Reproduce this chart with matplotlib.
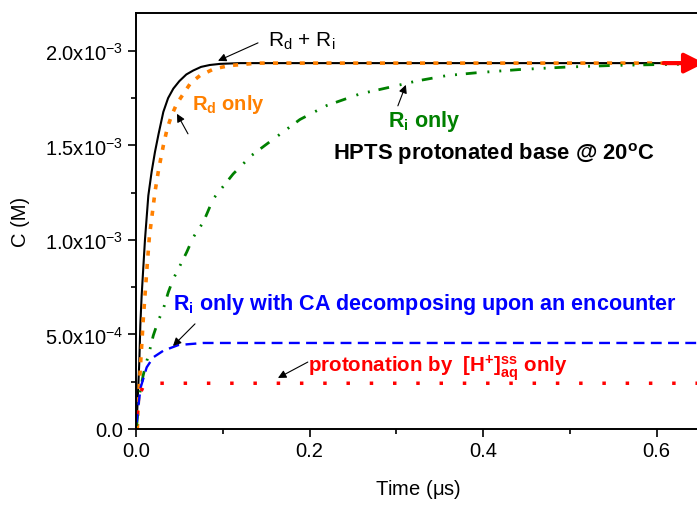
import matplotlib
matplotlib.use('Agg')
import matplotlib.pyplot as plt
from matplotlib.ticker import MultipleLocator, FuncFormatter

plt.rcParams['font.family'] = ['Liberation Sans', 'DejaVu Sans']
plt.rcParams['mathtext.fontset'] = 'custom'
plt.rcParams['mathtext.rm'] = 'Liberation Sans'
plt.rcParams['mathtext.bf'] = 'Liberation Sans:bold'
plt.rcParams['mathtext.default'] = 'regular'

# curves: time (us), concentration (M)
t_both = [0.0, 0.0005, 0.0015, 0.0038, 0.005, 0.0065, 0.0085, 0.0104, 0.0142, 0.018,
          0.0219, 0.026, 0.0315, 0.037, 0.043, 0.05, 0.058, 0.066, 0.075, 0.085,
          0.097, 0.12, 0.65]
c_both = [0.0, 0.03e-3, 0.106e-3, 0.354e-3, 0.55e-3, 0.705e-3, 0.86e-3, 1.005e-3,
          1.234e-3, 1.36e-3, 1.466e-3, 1.56e-3, 1.677e-3, 1.75e-3, 1.80e-3, 1.84e-3,
          1.875e-3, 1.896e-3, 1.915e-3, 1.925e-3, 1.931e-3, 1.935e-3, 1.935e-3]

t_rd = [0.0015, 0.0027, 0.0054, 0.0084, 0.0123, 0.0154, 0.0219, 0.026, 0.0315, 0.036,
        0.041, 0.047, 0.0545, 0.063, 0.0737, 0.09, 0.108, 0.14, 0.65]
c_rd = [0.0, 0.143e-3, 0.354e-3, 0.582e-3, 0.83e-3, 1.016e-3, 1.254e-3, 1.37e-3,
        1.499e-3, 1.59e-3, 1.658e-3, 1.72e-3, 1.772e-3, 1.83e-3, 1.869e-3, 1.905e-3,
        1.922e-3, 1.935e-3, 1.935e-3]

t_ri = [0.0008, 0.0038, 0.0081, 0.0115, 0.0153, 0.0199, 0.0257, 0.0315, 0.0372,
        0.043, 0.0499, 0.0584, 0.066, 0.0776, 0.089, 0.112, 0.133, 0.151, 0.189,
        0.220, 0.258, 0.293, 0.323, 0.358, 0.3925, 0.442, 0.496, 0.546, 0.598, 0.64]
c_ri = [0.017e-3, 0.176e-3, 0.280e-3, 0.344e-3, 0.407e-3, 0.494e-3, 0.573e-3,
        0.635e-3, 0.723e-3, 0.794e-3, 0.856e-3, 0.935e-3, 1.014e-3, 1.094e-3,
        1.217e-3, 1.349e-3, 1.446e-3, 1.508e-3, 1.637e-3, 1.711e-3, 1.772e-3,
        1.808e-3, 1.84e-3, 1.869e-3, 1.884e-3, 1.901e-3, 1.914e-3, 1.922e-3,
        1.927e-3, 1.93e-3]

t_ca = [0.0008, 0.0027, 0.0054, 0.0123, 0.0199, 0.0315, 0.0488, 0.0776, 0.65]
c_ca = [0.035e-3, 0.123e-3, 0.22e-3, 0.326e-3, 0.379e-3, 0.414e-3, 0.444e-3,
        0.455e-3, 0.455e-3]

t_h = [0.001, 0.0027, 0.005, 0.0092, 0.02, 0.65]
c_h = [0.08e-3, 0.13e-3, 0.19e-3, 0.233e-3, 0.242e-3, 0.242e-3]


def sci_label(v, pos):
    if v == 0:
        return '0.0'
    exp = int(f'{v:e}'.split('e')[1])
    mant = v / 10 ** exp
    return f'{mant:.1f}x10$^{{{exp}}}$'


fig = plt.figure(figsize=(6.97, 5.06), dpi=100)
ax = fig.add_axes([136 / 697, 76 / 506, 564 / 697, 416 / 506])

ax.plot(t_both, c_both, color='black', lw=1.5)
ax.plot(t_rd, c_rd, color='#FF8000', lw=2.6, dashes=(1.4, 2.3))
ax.plot(t_ri, c_ri, color='#008000', lw=2.0, dashes=(3.9, 3.9, 0.7, 3.6, 0.7, 3.2))
ax.plot(t_ca, c_ca, color='#0000FF', lw=1.7, dashes=(4.6, 2.7))
ax.plot(t_h, c_h, color='#FF0000', lw=2.5, dashes=(1.0, 5.7))

ax.set_xlim(0, 0.65)
ax.set_ylim(0, 2.2e-3)
ax.xaxis.set_major_locator(MultipleLocator(0.2))
ax.xaxis.set_minor_locator(MultipleLocator(0.1))
ax.yaxis.set_major_locator(MultipleLocator(5e-4))
ax.yaxis.set_minor_locator(MultipleLocator(2.5e-4))
ax.xaxis.set_major_formatter(FuncFormatter(lambda v, p: f'{v:.1f}'))
ax.yaxis.set_major_formatter(FuncFormatter(sci_label))
ax.tick_params(which='major', direction='out', length=6, width=1.2, labelsize=14.5, pad=3)
ax.tick_params(which='minor', direction='out', length=3.5, width=1.2)
for s in ax.spines.values():
    s.set_linewidth(1.4)

ax.set_xlabel('Time ($\\mu$s)', fontsize=14.5, labelpad=12)
ax.set_ylabel('C (M)', fontsize=14.5, labelpad=11)

arrow = dict(arrowstyle='-|>', color='black', lw=0.8, mutation_scale=12, shrinkA=0, shrinkB=0)

ax.text(0.152, 2.026e-3, 'R$_d$ + R$_i$', fontsize=15)
ax.annotate('', xy=(0.0945, 1.947e-3), xytext=(0.1406, 2.042e-3), arrowprops=arrow)

ax.text(0.0645, 1.693e-3, 'R$_d$ only', fontsize=14.5, fontweight='bold', color='#FF8000')
ax.annotate('', xy=(0.0472, 1.667e-3), xytext=(0.0599, 1.561e-3), arrowprops=arrow)

ax.text(0.290, 1.603e-3, 'R$_i$ only', fontsize=15.5, fontweight='bold', color='#008000')
ax.annotate('', xy=(0.311, 1.82e-3), xytext=(0.3018, 1.709e-3), arrowprops=arrow)

ax.text(0.227, 1.429e-3, 'HPTS protonated base @ 20$^o$C', fontsize=15.8,
        fontweight='bold', color='black')

ax.text(0.0426, 0.635e-3, 'R$_i$ only with CA decomposing upon an encounter',
        fontsize=15.5, fontweight='bold', color='#0000FF')
ax.annotate('', xy=(0.0426, 0.439e-3), xytext=(0.068, 0.556e-3), arrowprops=arrow)

ax.text(0.198, 0.307e-3, 'protonation by  [H$^{+}$]$^{ss}_{aq}$ only', fontsize=14.8,
        fontweight='bold', color='#FF0000')
ax.annotate('', xy=(0.1636, 0.27e-3), xytext=(0.198, 0.354e-3), arrowprops=arrow)

# red arrow at the right edge
ax.annotate('', xy=(0.655, 1.935e-3), xytext=(0.608, 1.935e-3), annotation_clip=False,
            arrowprops=dict(arrowstyle='-|>', color='#FF0000', lw=3, mutation_scale=30,
                            shrinkA=0, shrinkB=0, clip_on=False))

fig.savefig('out.png', dpi=100)
